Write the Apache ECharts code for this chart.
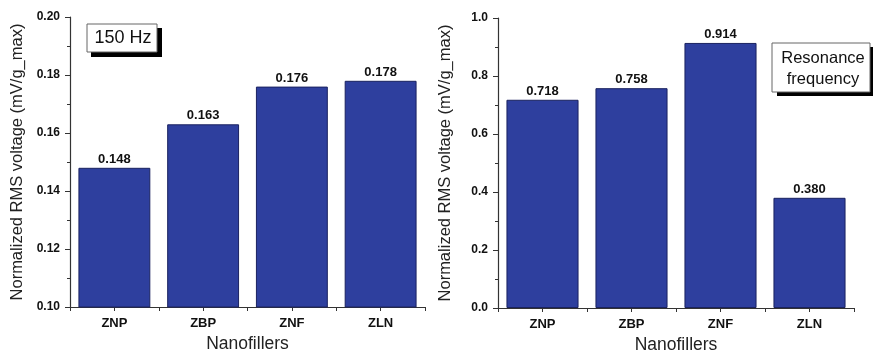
<!DOCTYPE html>
<html>
<head>
<meta charset="utf-8">
<script src="https://cdn.jsdelivr.net/npm/echarts@6/dist/echarts.min.js"></script>
<style>
  html, body { margin: 0; padding: 0; background: #ffffff; }
  #chart { width: 873px; height: 350px; }
</style>
</head>
<body>
<div id="chart"></div>
<script>
// Nanofiller types on the horizontal axis of both panels
const categories = ['ZNP', 'ZBP', 'ZNF', 'ZLN'];
// Normalized RMS voltage at 150 Hz (left panel)
const values150Hz = [0.148, 0.163, 0.176, 0.178];
// Normalized RMS voltage at resonance frequency (right panel)
const valuesResonance = [0.718, 0.758, 0.914, 0.380];
// Axis ranges / tick steps
const leftAxis = { min: 0.10, max: 0.20, interval: 0.02, digits: 2 };
const rightAxis = { min: 0.0, max: 1.0, interval: 0.2, digits: 1 };
const xTitle = 'Nanofillers';
const yTitle = 'Normalized RMS voltage (mV/g_max)';

const FONT = '"Liberation Sans", Arial, sans-serif';
const BAR = '#2e3f9e';
const AX = '#333333';

const chart = echarts.init(document.getElementById('chart'), null, { renderer: 'canvas' });

function yAxisFor(idx, cfg) {
  return {
    type: 'value', gridIndex: idx, min: cfg.min, max: cfg.max, interval: cfg.interval,
    name: yTitle, nameLocation: 'middle', nameGap: 44,
    nameTextStyle: { fontFamily: FONT, fontSize: 16.5, color: '#222' },
    axisLine: { show: true, lineStyle: { color: AX, width: 1.2 } },
    axisTick: { show: true, inside: false, length: 5, lineStyle: { color: AX } },
    minorTick: { show: true, splitNumber: 2, length: 3, lineStyle: { color: AX } },
    splitLine: { show: false },
    axisLabel: {
      fontFamily: FONT, fontSize: 12, fontWeight: 'bold', color: '#111', margin: 10,
      formatter: v => v.toFixed(cfg.digits)
    }
  };
}

function xAxisFor(idx) {
  return {
    type: 'category', gridIndex: idx, data: categories, boundaryGap: true,
    name: xTitle, nameLocation: 'middle', nameGap: 27,
    nameTextStyle: { fontFamily: FONT, fontSize: 17.5, color: '#222' },
    axisLine: { show: true, lineStyle: { color: AX, width: 1.2 } },
    axisTick: { show: false },
    axisLabel: { fontFamily: FONT, fontSize: 13, fontWeight: 'bold', color: '#111', margin: 10 }
  };
}

// Tick-only helper axis: marks category centres and boundaries
function tickAxisFor(idx) {
  return {
    type: 'value', gridIndex: idx, min: 0, max: categories.length, interval: 0.5,
    position: 'bottom',
    axisLine: { show: false },
    axisTick: { show: true, inside: false, length: 4, lineStyle: { color: AX } },
    axisLabel: { show: false },
    splitLine: { show: false }
  };
}

function labelFor(digits) {
  return {
    show: true, position: 'top', distance: 2,
    fontFamily: FONT, fontSize: 13, fontWeight: 'bold', color: '#111',
    formatter: p => p.value.toFixed(digits)
  };
}

const option = {
  backgroundColor: '#ffffff',
  animation: false,
  grid: [
    { left: 70, right: 448, top: 17, bottom: 43, outerBoundsMode: 'none', containLabel: false },
    { left: 498, right: 19, top: 18, bottom: 42, outerBoundsMode: 'none', containLabel: false }
  ],
  xAxis: [xAxisFor(0), xAxisFor(1), tickAxisFor(0), tickAxisFor(1)],
  yAxis: [yAxisFor(0, leftAxis), yAxisFor(1, rightAxis)],
  series: [
    {
      type: 'bar', xAxisIndex: 0, yAxisIndex: 0, data: values150Hz,
      barCategoryGap: '19%',
      itemStyle: { color: BAR, borderColor: '#1a2260', borderWidth: 1 },
      label: labelFor(3)
    },
    {
      type: 'bar', xAxisIndex: 1, yAxisIndex: 1, data: valuesResonance,
      barCategoryGap: '19%',
      itemStyle: { color: BAR, borderColor: '#1a2260', borderWidth: 1 },
      label: labelFor(3)
    }
  ],
  graphic: [
    // "150 Hz" note box with drop shadow
    { type: 'rect', shape: { x: 91, y: 28, width: 71, height: 29 }, style: { fill: '#000' }, z: 10 },
    { type: 'rect', shape: { x: 87, y: 24, width: 70, height: 28 }, style: { fill: '#fff', stroke: '#666', lineWidth: 1 }, z: 11 },
    { type: 'text', x: 123, y: 38, style: { text: '150 Hz', font: '18px ' + FONT, fill: '#111', align: 'center', verticalAlign: 'middle' }, z: 12 },
    // "Resonance frequency" note box with drop shadow
    { type: 'rect', shape: { x: 777, y: 47, width: 100, height: 49 }, style: { fill: '#000' }, z: 10 },
    { type: 'rect', shape: { x: 772, y: 43, width: 98, height: 49 }, style: { fill: '#fff', stroke: '#666', lineWidth: 1 }, z: 11 },
    { type: 'text', x: 823, y: 58, style: { text: 'Resonance', font: '16.5px ' + FONT, fill: '#111', align: 'center', verticalAlign: 'middle' }, z: 12 },
    { type: 'text', x: 823, y: 79, style: { text: 'frequency', font: '16.5px ' + FONT, fill: '#111', align: 'center', verticalAlign: 'middle' }, z: 12 }
  ]
};

chart.setOption(option);
</script>
</body>
</html>
